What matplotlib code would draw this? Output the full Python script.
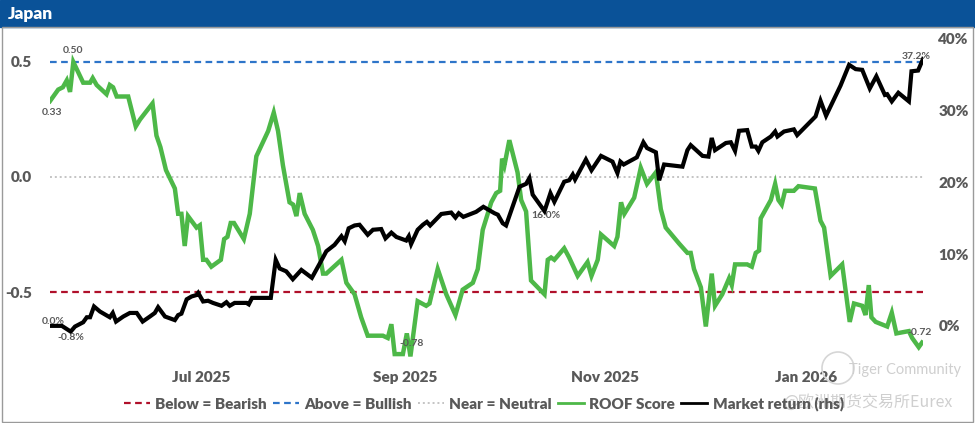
import pandas as pd
import matplotlib.pyplot as plt
from matplotlib.patches import Rectangle, Ellipse
from matplotlib.lines import Line2D

plt.rcParams['font.family'] = ['Lato', 'DejaVu Sans']

start = pd.Timestamp("2025-05-16")

# ROOF score (left axis): days since start, score
roof_days = [0, 2.5, 3.9, 5.1, 6.1, 7.1, 10.1, 12.2, 13.0, 14.2, 17.2, 18.2, 19.2, 20.3, 23.8,
             26.1, 27.4, 31.2, 32.4, 33.6, 35.3, 38.0, 39.0, 40.0, 41.0, 42.0, 44.6, 45.6, 46.6,
             47.6, 49.1, 52.0, 53.0, 54.0, 55.0, 56.0, 59.0, 60.8, 62.8, 66.4, 68.1, 69.4, 70.9,
             72.9, 74.0, 75.0, 76.0, 77.5, 80.0, 81.6, 83.1, 84.1, 88.7, 90.2, 92.7, 94.7, 96.7,
             98.8, 101.3, 102.8, 103.9, 104.9, 107.4, 108.6, 109.7, 111.9, 114.5, 115.5, 118.0,
             120.6, 123.4, 125.6, 128.7, 130.2, 131.7, 134.3, 135.8, 137.0, 137.6, 138.3, 139.8,
             142.3, 143.4, 144.9, 146.4, 150.5, 151.5, 152.5, 153.5, 156.5, 158.0, 160.6, 163.6,
             164.8, 166.7, 167.7, 171.7, 172.7, 173.8, 174.8, 177.8, 179.8, 181.7, 184.4, 185.9,
             187.4, 191.5, 194.0, 195.0, 196.0, 198.1, 199.6, 201.4, 202.4, 204.6, 206.7, 207.5,
             208.5, 212.2, 213.6, 214.8, 215.8, 216.3, 219.4, 220.7, 221.7, 222.7, 223.7, 226.4,
             227.8, 232.8, 234.5, 235.6, 237.6, 241.1, 243.4, 244.7, 247.2, 248.2, 249.2, 250.0,
             251.3, 254.8, 256.2, 257.6, 261.4, 262.4, 264.4, 265.4]
roof_score = [0.33, 0.38, 0.39, 0.42, 0.37, 0.50, 0.41, 0.41, 0.43, 0.40, 0.36, 0.40, 0.39, 0.35, 0.35,
              0.22, 0.25, 0.32, 0.18, 0.13, 0.03, -0.05, -0.16, -0.16, -0.30, -0.17, -0.22, -0.21, -0.36,
              -0.36, -0.39, -0.36, -0.27, -0.26, -0.20, -0.20, -0.27, -0.16, 0.09, 0.20, 0.28, 0.20, 0.05,
              -0.11, -0.12, -0.17, -0.07, -0.16, -0.23, -0.30, -0.42, -0.42, -0.36, -0.46, -0.51, -0.61, -0.69,
              -0.69, -0.69, -0.70, -0.64, -0.77, -0.77, -0.68, -0.78, -0.54, -0.56, -0.55, -0.40,
              -0.51, -0.60, -0.49, -0.46, -0.40, -0.23, -0.11, -0.07, -0.06, 0.08, 0.05, 0.16,
              0.02, -0.10, -0.15, -0.45, -0.51, -0.36, -0.35, -0.36, -0.31, -0.35, -0.43, -0.37,
              -0.43, -0.36, -0.25, -0.30, -0.26, -0.11, -0.16, -0.09, 0.04, -0.03, 0.02, -0.14,
              -0.22, -0.29, -0.33, -0.33, -0.40, -0.48, -0.65, -0.42, -0.56, -0.51, -0.44, -0.47,
              -0.38, -0.38, -0.39, -0.33, -0.32, -0.18, -0.10, -0.03, -0.10, -0.12, -0.06, -0.06,
              -0.04, -0.05, -0.19, -0.22, -0.43, -0.38, -0.63, -0.55, -0.56, -0.60, -0.47, -0.61,
              -0.63, -0.65, -0.59, -0.68, -0.67, -0.70, -0.74, -0.72]

# Market return (right axis, %)
mkt_days = [0, 3.6, 6.3, 7.6, 10.1, 11.2, 12.2, 13.4, 15.2, 18.2, 19.1, 20.1, 22.3, 24.3, 26.4,
            28.2, 30.4, 31.9, 32.9, 35.0, 38.0, 39.0, 40.0, 41.6, 43.1, 44.6, 45.1, 46.6, 48.1,
            49.6, 52.2, 53.7, 54.7, 56.2, 59.8, 60.5, 61.5, 63.3, 67.2, 68.7, 69.9, 71.9, 73.9,
            76.5, 79.7, 82.1, 84.1, 86.6, 88.7, 89.7, 90.9, 92.7, 94.2, 96.7, 98.3, 100.8, 102.1,
            103.9, 105.4, 108.4, 109.2, 109.9, 111.9, 113.5, 114.7, 115.7, 119.1, 122.1, 123.4,
            124.4, 125.8, 129.7, 131.9, 135.3, 136.3, 137.8, 138.8, 142.9, 144.9, 145.9, 146.9,
            150.5, 152.3, 153.5, 156.5, 158.0, 159.1, 159.8, 163.1, 164.8, 167.7, 171.2, 172.7,
            173.6, 174.6, 178.6, 180.6, 181.7, 184.4, 185.4, 186.9, 192.5, 194.0, 195.0, 198.6,
            200.4, 201.4, 202.4, 205.7, 207.2, 208.5, 209.7, 212.2, 213.6, 214.8, 215.6, 216.8,
            219.4, 220.7, 221.4, 223.4, 226.4, 227.4, 230.0, 233.0, 234.5, 236.2, 240.6, 243.2,
            245.2, 247.2, 249.5, 251.5, 254.1, 254.8, 256.2, 258.2, 261.4, 262.2, 264.2, 265.7]
mkt_return = [0.0, 0.0, -0.8, -0.1, 0.5, 1.2, 1.2, 2.7, 2.0, 1.2, 1.8, 0.6, 1.3, 1.8, 1.8,
              0.6, 1.3, 1.8, 2.6, 1.3, 0.8, 1.5, 1.7, 3.7, 4.1, 4.3, 4.6, 3.4, 3.5,
              3.2, 2.8, 3.3, 2.8, 3.2, 3.2, 3.0, 3.9, 3.9, 3.9, 9.2, 8.0, 7.6, 6.5,
              7.8, 6.7, 8.7, 10.4, 11.3, 12.5, 11.8, 13.6, 14.0, 14.1, 12.7, 13.4, 13.5, 12.2,
              13.0, 12.4, 11.9, 12.5, 11.4, 13.4, 14.1, 14.5, 14.0, 15.6, 15.8, 15.1,
              15.7, 15.2, 15.9, 16.6, 15.7, 15.5, 14.3, 14.0, 19.4, 19.8, 20.6, 18.3,
              16.0, 18.5, 17.3, 20.1, 20.3, 21.1, 20.4, 23.2, 21.7, 23.7, 22.9, 21.3,
              22.9, 22.5, 23.5, 25.6, 24.8, 24.2, 20.3, 22.5, 22.2, 24.5, 25.2, 23.7,
              23.6, 26.2, 24.5, 25.5, 25.6, 24.4, 27.2, 27.3, 25.0, 25.0, 24.4, 25.6,
              26.4, 27.1, 26.4, 27.1, 27.4, 26.6, 27.8, 29.2, 31.4, 29.3, 33.5, 36.4,
              35.8, 35.7, 33.1, 34.8, 32.2, 32.3, 31.3, 32.5, 31.3, 35.5, 35.6, 37.2]

tick_dates = ["2025-07-01", "2025-09-01", "2025-11-01", "2026-01-01"]
tick_labels = ["Jul 2025", "Sep 2025", "Nov 2025", "Jan 2026"]

roof_dates = start + pd.to_timedelta(roof_days, unit="D")
mkt_dates = start + pd.to_timedelta(mkt_days, unit="D")

txt = '#595959'
green = '#4DB848'
red = '#B0102A'
blue = '#2E75C9'
grey = '#C4C4C4'
dash = (0, (3, 2))
dot = (0, (1, 1.5))

fig = plt.figure(figsize=(9.75, 4.23), dpi=100)

# header bar and frame
fig.patches.append(Rectangle((0, 1 - 27 / 423), 1, 27 / 423, transform=fig.transFigure,
                             color='#0A5298', zorder=0))
fig.patches.append(Rectangle((1.5 / 975, 1.5 / 423), 971 / 975, 1 - 28.5 / 423, transform=fig.transFigure,
                             fill=False, edgecolor='#9a9a9a', linewidth=1, zorder=0))
fig.text(8 / 975, 1 - 14 / 423, "Japan", color='white', fontsize=12.5, fontweight='heavy', va='center')

ax = fig.add_axes([50 / 975, 62 / 423, 873 / 975, 322 / 423])
ax2 = ax.twinx()

ax.axhline(0.5, color=blue, linestyle=dash, linewidth=1.6)
ax.axhline(0.0, color=grey, linestyle=dot, linewidth=1.4)
ax.axhline(-0.5, color=red, linestyle=dash, linewidth=1.6)
ax.plot(roof_dates, roof_score, color=green, linewidth=3.2, solid_joinstyle='miter')
ax2.plot(mkt_dates, mkt_return, color='black', linewidth=3, solid_joinstyle='miter')

ax.set_xlim(roof_dates[0], mkt_dates[-1])
ax.set_ylim(-0.8, 0.6)
ax2.set_ylim(-4.9, 40)

ax.set_yticks([-0.5, 0.0, 0.5])
ax.set_yticklabels(["-0.5", "0.0", "0.5"])
ax2.set_yticks([0, 10, 20, 30, 40])
ax2.set_yticklabels(["0%", "10%", "20%", "30%", "40%"])
ax.set_xticks(pd.to_datetime(tick_dates))
ax.set_xticklabels(tick_labels)

for a in (ax, ax2):
    for s in a.spines.values():
        s.set_visible(False)
    a.tick_params(length=0, labelsize=11, labelcolor=txt)
    for lab in a.get_xticklabels() + a.get_yticklabels():
        lab.set_fontweight('heavy')
ax.tick_params(axis='y', pad=13)
ax.tick_params(axis='x', pad=7)
ax2.tick_params(axis='y', pad=11)

# point labels
def note(a, d, v, s, dx, dy):
    a.annotate(s, (d, v), xytext=(dx, dy), textcoords='offset points', ha='center', va='center',
               fontsize=7.5, color=txt, fontweight='bold')

note(ax, roof_dates[0], roof_score[0], "0.33", 1.5, -8.5)
note(ax, roof_dates[5], roof_score[5], "0.50", 0, 8.5)
note(ax, roof_dates[64], roof_score[64], "-0.78", 1, 9)
note(ax, roof_dates[-1], roof_score[-1], "-0.72", -1.5, 7.5)
note(ax2, mkt_dates[0], mkt_return[0], "0.0%", 2, 3)
note(ax2, mkt_dates[2], mkt_return[2], "-0.8%", 0, -4.5)
note(ax2, mkt_dates[81], mkt_return[81], "16.0%", 1, -3)
note(ax2, mkt_dates[-1], mkt_return[-1], "37.2%", -5, 2)

handles = [
    Line2D([], [], color=red, linestyle=dash, linewidth=1.6),
    Line2D([], [], color=blue, linestyle=dash, linewidth=1.6),
    Line2D([], [], color=grey, linestyle=dot, linewidth=1.4),
    Line2D([], [], color=green, linewidth=2),
    Line2D([], [], color='black', linewidth=2),
]
labels = ["Below = Bearish", "Above = Bullish", "Near = Neutral", "ROOF Score", "Market return (rhs)"]
leg = fig.legend(handles, labels, loc='center', bbox_to_anchor=(484 / 975, 1 - 404 / 423), ncol=5,
                 frameon=False, handlelength=1.7, handletextpad=0.35, columnspacing=0.4,
                 prop={'weight': 'heavy', 'size': 11})
for t in leg.get_texts():
    t.set_color(txt)

# watermark
fig.patches.append(Ellipse((838 / 975, 1 - 368 / 423), 32 / 975, 32 / 423, transform=fig.transFigure,
                           fill=False, edgecolor='#d6d6d6', linewidth=1.2))
fig.text(905 / 975, 1 - 370 / 423, "Tiger Community", color='#cfcfcf', fontsize=10.5, ha='center', va='center')
fig.text(868 / 975, 1 - 402 / 423, "@欧洲期货交易所Eurex", color='#cfcfcf', fontsize=11.5, ha='center',
         va='center', family=['Noto Sans CJK SC', 'DejaVu Sans'])

fig.savefig("out.png", dpi=100)
